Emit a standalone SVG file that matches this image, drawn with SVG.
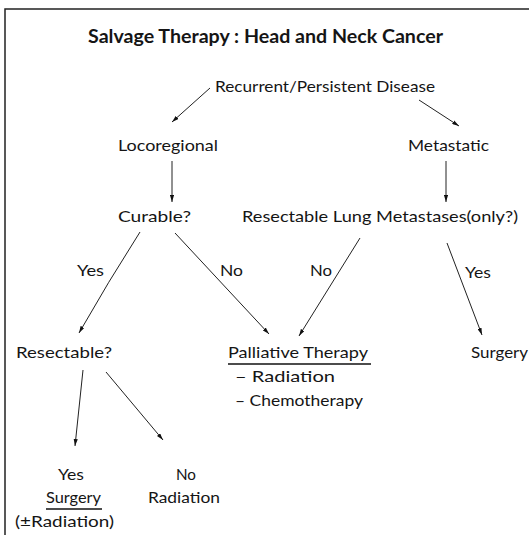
<svg xmlns="http://www.w3.org/2000/svg" width="529" height="535" viewBox="0 0 529 535">
<defs>
<marker id="ah" viewBox="0 0 10 6" refX="10" refY="3" markerWidth="7" markerHeight="4.5" markerUnits="userSpaceOnUse" orient="auto">
<path d="M0,0 L10,3 L0,6 Z" fill="#111"/>
</marker>
<style>
text{font-family:Lato,"Open Sans","Liberation Sans",sans-serif;font-size:16px;fill:#151515}
.title{font-weight:bold;font-size:18px}
.c line,.c path{stroke:#222;stroke-width:1;fill:none;marker-end:url(#ah)}
.u{stroke:#111;stroke-width:1.3}
.frame{stroke:#222;stroke-width:1.5;fill:none}
</style>
</defs>
<rect width="529" height="535" fill="#fff"/>
<path class="frame" d="M5,535 L5,9 L529,9"/>
<text class="title" x="88" y="43" textLength="355" lengthAdjust="spacingAndGlyphs">Salvage Therapy : Head and Neck Cancer</text>
<g id="recurrent"><text x="215" y="92" textLength="220" lengthAdjust="spacingAndGlyphs">Recurrent/Persistent Disease</text></g>
<g id="locoregional"><text x="118" y="151" textLength="100" lengthAdjust="spacingAndGlyphs">Locoregional</text></g>
<g id="metastatic"><text x="408" y="151" textLength="81" lengthAdjust="spacingAndGlyphs">Metastatic</text></g>
<g id="curable"><text x="118" y="222" textLength="73" lengthAdjust="spacingAndGlyphs">Curable?</text></g>
<g id="lung"><text x="242" y="222" textLength="276" lengthAdjust="spacingAndGlyphs">Resectable  Lung  Metastases(only?)</text></g>
<g id="resectable"><text x="16" y="358" textLength="96" lengthAdjust="spacingAndGlyphs">Resectable?</text></g>
<g id="palliative">
<text x="228" y="358" textLength="140" lengthAdjust="spacingAndGlyphs">Palliative  Therapy</text>
<line class="u" x1="228" y1="364" x2="371" y2="364"/>
<text x="235" y="382" textLength="100" lengthAdjust="spacingAndGlyphs">– Radiation</text>
<text x="235" y="406" textLength="128" lengthAdjust="spacingAndGlyphs">– Chemotherapy</text>
</g>
<g id="surgery-right"><text x="471" y="358" textLength="57" lengthAdjust="spacingAndGlyphs">Surgery</text></g>
<g id="yes-surgery">
<text x="58" y="480" textLength="26" lengthAdjust="spacingAndGlyphs">Yes</text>
<text x="46" y="503" textLength="55" lengthAdjust="spacingAndGlyphs">Surgery</text>
<line class="u" x1="46" y1="509" x2="102" y2="509"/>
<text x="15" y="527" textLength="99" lengthAdjust="spacingAndGlyphs">(±Radiation)</text>
</g>
<g id="no-radiation">
<text x="176" y="480" textLength="20" lengthAdjust="spacingAndGlyphs">No</text>
<text x="148" y="503" textLength="72" lengthAdjust="spacingAndGlyphs">Radiation</text>
</g>
<g id="labels">
<text x="77" y="276" textLength="27" lengthAdjust="spacingAndGlyphs">Yes</text>
<text x="220" y="276" textLength="23" lengthAdjust="spacingAndGlyphs">No</text>
<text x="310" y="276" textLength="22" lengthAdjust="spacingAndGlyphs">No</text>
<text x="465" y="278" textLength="26" lengthAdjust="spacingAndGlyphs">Yes</text>
</g>
<g id="connectors" class="c">
<line x1="210" y1="88" x2="172" y2="122"/>
<line x1="419" y1="100" x2="459" y2="126"/>
<line x1="172" y1="161" x2="172" y2="202"/>
<line x1="446" y1="161" x2="446" y2="202"/>
<path d="M140,232 Q108,282 79,333"/>
<line x1="175" y1="233" x2="269" y2="334"/>
<line x1="360" y1="238" x2="299" y2="336"/>
<line x1="447" y1="243" x2="482" y2="335"/>
<line x1="83" y1="370" x2="75" y2="446"/>
<line x1="106" y1="372" x2="163" y2="440"/>
</g>
</svg>
